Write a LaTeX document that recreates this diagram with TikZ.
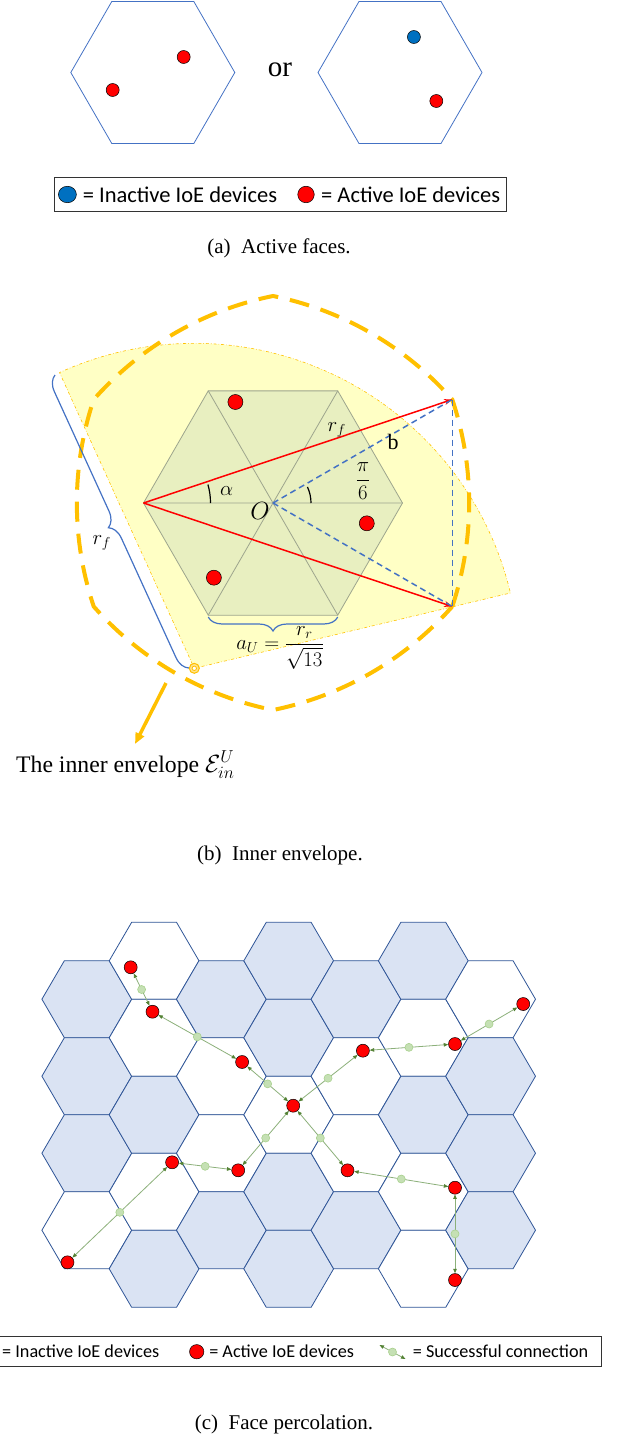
\documentclass[tikz,border=0pt]{standalone}
\usepackage{amsmath}
\usepackage{fontspec}
\setmainfont{Liberation Serif}
\newfontfamily\calibrifont{Carlito}
\usepackage{tikz}
\usetikzlibrary{positioning, shapes.geometric, arrows.meta, calc, decorations.pathreplacing}
\definecolor{ioeBlue}{HTML}{4472C4}
\definecolor{ioeNavy}{HTML}{2F5597}
\definecolor{ioeShade}{HTML}{DAE3F3}
\definecolor{ioeInactive}{HTML}{0070C0}
\definecolor{envOrange}{HTML}{FFC000}
\definecolor{envYellow}{HTML}{FFFFC5}
\definecolor{hexOlive}{HTML}{E8EFC0}
\definecolor{hexGrey}{HTML}{9DA58D}
\definecolor{linkGreen}{HTML}{8CB07A}
\definecolor{linkDark}{HTML}{548235}
\definecolor{linkLight}{HTML}{C5E0B4}
\definecolor{linkRing}{HTML}{A9D18E}
\tikzset{
  facecell/.style={draw=ioeBlue, line width=0.8pt},
  honey/.style={draw=ioeNavy, line width=0.8pt, fill=white},
  honeyoff/.style={honey, fill=ioeShade},
  device/.style={
    circle, draw=black, line width=0.5pt,
    fill=#1, inner sep=0pt, minimum size=13pt
  },
  legdot/.style={ellipse, draw=black, line width=0.5pt, fill=#1, inner sep=0pt},
  legendbox/.style={rectangle, draw=black!80, line width=0.8pt, inner sep=0pt},
  legtext/.style={font=\calibrifont\fontsize{22.5}{27}\selectfont, inner sep=0pt},
  legsmall/.style={font=\calibrifont\fontsize{18.2}{22}\selectfont, inner sep=0pt},
  subcaption/.style={font=\fontsize{21}{25}\selectfont, inner sep=0pt},
  mathlabel/.style={font=\fontsize{22}{26}\selectfont, inner sep=0pt},
  envsector/.style={fill=envYellow, draw=envOrange, line width=0.6pt, dash dot},
  facehex/.style={fill=hexOlive, draw=hexGrey, line width=0.8pt},
  facegrid/.style={draw=hexGrey, line width=0.8pt},
  envelope/.style={draw=envOrange, line width=4pt, dash pattern=on 20pt off 12pt},
  redarrow/.style={
    -{Stealth[length=8pt, width=6pt]},
    red, line width=1.5pt
  },
  bluedash/.style={ioeBlue, line width=1.5pt, dash pattern=on 6pt off 4pt},
  anglemark/.style={black, line width=1.2pt},
  bracemark/.style={decorate, decoration={brace, amplitude=#1}, ioeBlue, line width=1.2pt},
  envpin/.style={
    circle, draw=envOrange, fill=envOrange!45,
    line width=1pt, inner sep=0pt, minimum size=10pt
  },
  pinarrow/.style={
    -{Triangle[length=11pt, width=9pt]},
    envOrange, line width=3.5pt
  },
  link/.style={
    <->, >={Triangle[length=4.5pt, width=3.5pt, color=linkDark]},
    linkGreen, line width=0.8pt
  },
  linkmark/.style={
    circle, draw=linkRing, fill=linkLight,
    line width=0.6pt, inner sep=0pt, minimum size=8pt
  }
}
\begin{document}
\begin{tikzpicture}[x=1pt, y=1pt]
  \useasboundingbox (0,0) rectangle (618,-1439);

  % (a) active faces
  \draw[facecell] (152.8,-72.5) +(0:82) -- +(60:82) -- +(120:82) -- +(180:82) -- +(240:82) -- +(300:82) -- cycle;
  \draw[facecell] (400,-72.5) +(0:82) -- +(60:82) -- +(120:82) -- +(180:82) -- +(240:82) -- +(300:82) -- cycle;
  \node[device=red] (a1) at (183.7,-57) {};
  \node[device=red] (a2) at (112.7,-90) {};
  \node[device=ioeInactive] (a3) at (413.9,-37) {};
  \node[device=red] (a4) at (436.3,-101) {};
  \node[font=\fontsize{29}{34}\selectfont, inner sep=0pt] (orWord) at (280,-70) {or};

  \node[legendbox, minimum width=452pt, minimum height=33.3pt] (legA) at (280,-194.3) {};
  \node[legdot=ioeInactive, minimum width=18pt, minimum height=16.5pt] (legAoff) at (67.4,-194.5) {};
  \node[legtext, right=6pt of legAoff] (legAoffTxt) {= Inactive IoE devices};
  \node[legdot=red, minimum width=16.5pt, minimum height=16.5pt] (legAon) at (306,-194.5) {};
  \node[legtext, right=6.5pt of legAon] (legAonTxt) {= Active IoE devices};
  \node[subcaption] (capA) at (279,-248) {(a)~~Active faces.};

  % (b) inner envelope, centred on O
  \begin{scope}[shift={(273,-503)}]
    \coordinate (O) at (0,0);
    \coordinate (vL) at (180:129.5);
    \coordinate (tipU) at (30:207);
    \coordinate (tipD) at (330:207);
    \coordinate (apex) at (-78.7,-165.3);
    \filldraw[envsector] (apex) -- ++(13.4:325) arc[start angle=13.4, end angle=114.5, radius=325] -- cycle;
    \filldraw[facehex] (0:129.5) -- (60:129.5) -- (120:129.5) -- (180:129.5) -- (240:129.5) -- (300:129.5) -- cycle;
    \draw[facegrid] (0:129.5) -- (180:129.5) (60:129.5) -- (240:129.5) (120:129.5) -- (300:129.5);
    \draw[envelope] (tipD)
      arc[start angle=-18.53, end angle=18.53, radius=325.7]
      arc[start angle=41.47, end angle=78.53, radius=325.7]
      arc[start angle=101.47, end angle=138.53, radius=325.7]
      arc[start angle=161.47, end angle=198.53, radius=325.7]
      arc[start angle=221.47, end angle=258.53, radius=325.7]
      arc[start angle=281.47, end angle=318.53, radius=325.7] -- cycle;
    \node[device=red, minimum size=15pt] (u1) at (-37.6,101) {};
    \node[device=red, minimum size=15pt] (u2) at (93.8,-20.3) {};
    \node[device=red, minimum size=15pt] (u3) at (-59.1,-74.7) {};
    \draw[redarrow] (vL) -- (tipU);
    \draw[redarrow] (vL) -- (tipD);
    \draw[bluedash] (O) -- (tipU);
    \draw[bluedash] (O) -- (tipD);
    \draw[bluedash] (tipU) -- (tipD);
    \draw[anglemark] (-62.5,0) arc[start angle=0, end angle=16, radius=67];
    \draw[anglemark] (38,0) arc[start angle=0, end angle=25, radius=38];
    \draw[bracemark=15pt] (-84,-165) -- (-218,128);
    \draw[bracemark=14pt] (64.75,-114) -- (-64.75,-114);
    \node[mathlabel] (lblRf) at (63.7,73) {$r_f$};
    \node[mathlabel] (lblB) at (120,61.3) {b};
    \node[mathlabel] (lblAlpha) at (-46.3,12) {$\alpha$};
    \node[mathlabel] (lblPi) at (90,22) {$\dfrac{\pi}{6}$};
    \node[mathlabel, font=\fontsize{24}{28}\selectfont] (lblO) at (-13,-8) {$O$};
    \node[mathlabel] (lblAU) at (7,-145) {$a_U=\dfrac{r_r}{\sqrt{13}}$};
    \node[mathlabel] (lblRfSide) at (-171.3,-40) {$r_f$};
    \node[envpin] (pin) at (apex) {};
    \draw[envOrange, line width=0.8pt, fill=white] (pin.center) circle[radius=2.2];
  \end{scope}
  \coordinate (envTail) at (166,-683);
  \coordinate (envHead) at (135,-744);
  \draw[pinarrow] (envTail) -- (envHead);
  \node[font=\fontsize{23.7}{28}\selectfont, inner sep=0pt, anchor=base west] (envText) at (16,-772) {The inner envelope $\mathcal{E}^{U}_{in}$};
  \node[subcaption] (capB) at (280,-855) {(b)~~Inner envelope.};

  % (c) face percolation
  \foreach \cx/\cy/\cs in {
      86.8/999.2/honeyoff, 86.8/1076.2/honeyoff, 86.8/1153.2/honeyoff, 86.8/1230.2/honey,
      154.1/960.8/honey, 154.1/1037.8/honey, 154.1/1114.8/honeyoff, 154.1/1191.8/honey, 154.1/1268.8/honeyoff,
      221.4/999.2/honeyoff, 221.4/1076.2/honey, 221.4/1153.2/honey, 221.4/1230.2/honeyoff,
      288.7/960.8/honeyoff, 288.7/1037.8/honeyoff, 288.7/1114.8/honey, 288.7/1191.8/honeyoff, 288.7/1268.8/honeyoff,
      356.0/999.2/honeyoff, 356.0/1076.2/honey, 356.0/1153.2/honey, 356.0/1230.2/honeyoff,
      423.3/960.8/honeyoff, 423.3/1037.8/honey, 423.3/1114.8/honeyoff, 423.3/1191.8/honey, 423.3/1268.8/honey,
      490.6/999.2/honey, 490.6/1076.2/honeyoff, 490.6/1153.2/honeyoff, 490.6/1230.2/honeyoff}
    \draw[\cs, shift={(\cx,-\cy)}] (0:44.9 and 44.45) -- (60:44.9 and 44.45) -- (120:44.9 and 44.45)
      -- (180:44.9 and 44.45) -- (240:44.9 and 44.45) -- (300:44.9 and 44.45) -- cycle;

  \node[device=red] (d1) at (130.7,-967.3) {};
  \node[device=red] (d2) at (152.5,-1011.7) {};
  \node[device=red] (d3) at (242.1,-1062) {};
  \node[device=red] (d4) at (293.2,-1105.7) {};
  \node[device=red] (d5) at (362.9,-1050.7) {};
  \node[device=red] (d6) at (455,-1044) {};
  \node[device=red] (d7) at (523.2,-1004) {};
  \node[device=red] (d8) at (172.1,-1162.3) {};
  \node[device=red] (d9) at (238.2,-1170.3) {};
  \node[device=red] (d10) at (347.5,-1170.3) {};
  \node[device=red] (d11) at (455,-1187.7) {};
  \node[device=red] (d12) at (67.5,-1262.3) {};
  \node[device=red] (d13) at (455,-1280) {};

  \draw[link] (d1) -- (d2) node[linkmark, midway] (m1) {};
  \draw[link] (d2) -- (d3) node[linkmark, midway] (m2) {};
  \draw[link] (d3) -- (d4) node[linkmark, midway] (m3) {};
  \draw[link] (d4) -- (d5) node[linkmark, midway] (m4) {};
  \draw[link] (d5) -- (d6) node[linkmark, midway] (m5) {};
  \draw[link] (d6) -- (d7) node[linkmark, midway] (m6) {};
  \draw[link] (d4) -- (d9) node[linkmark, midway] (m7) {};
  \draw[link] (d4) -- (d10) node[linkmark, midway] (m8) {};
  \draw[link] (d8) -- (d9) node[linkmark, midway] (m9) {};
  \draw[link] (d8) -- (d12) node[linkmark, midway] (m10) {};
  \draw[link] (d10) -- (d11) node[linkmark, midway] (m11) {};
  \draw[link] (d11) -- (d13) node[linkmark, midway] (m12) {};

  \node[legendbox, minimum width=611pt, minimum height=30pt] (legC) at (295.5,-1351.7) {};
  \node[legsmall, anchor=west] (legCoffTxt) at (2,-1351.7) {= Inactive IoE devices};
  \node[legdot=red, minimum width=14.3pt, minimum height=14.3pt] (legCon) at (196.7,-1351.7) {};
  \node[legsmall, right=5pt of legCon] (legConTxt) {= Active IoE devices};
  \coordinate (iconA) at (379.5,-1345);
  \coordinate (iconB) at (405.5,-1359);
  \draw[link] (iconA) -- (iconB) node[linkmark, midway] (iconMark) {};
  \node[legsmall, anchor=west] (legCtxt) at (412.7,-1351.7) {= Successful connection};
  \node[subcaption] (capC) at (284,-1424) {(c)~~Face percolation.};
\end{tikzpicture}
\end{document}
